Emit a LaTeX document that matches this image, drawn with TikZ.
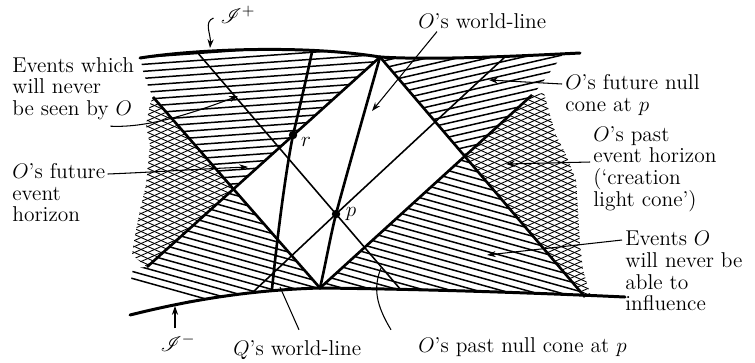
\documentclass[tikz,border=0pt]{standalone}
\usepackage{fontspec}
\usepackage{mathrsfs}
\usetikzlibrary{arrows.meta}

\newcommand{\scriplus}{(140,58) .. controls (190,50) and (300,44) .. (380,57) .. controls (430,60) and (500,57) .. (580,53)}
\newcommand{\scriminus}{(130,315) .. controls (190,300) and (250,290) .. (320,288) .. controls (420,289) and (540,293) .. (625,297)}

\tikzset{
  scri/.style={line width=1.7pt, line cap=round},
  horizon/.style={line width=1.5pt},
  worldline/.style={line width=1.5pt},
  nullray/.style={line width=0.9pt},
  hatch/.style={line width=0.85pt},
  mesh/.style={line width=0.5pt},
  leader/.style={line width=0.6pt},
  pointer/.style={leader, -{Stealth[length=5pt, width=3.5pt]}},
  lab/.style={inner sep=0pt, align=left, anchor=north west},
  tag/.style={inner sep=0pt, anchor=base west},
}

\begin{document}
\begin{tikzpicture}[x=0.2mm, y=-0.2mm, font={\fontsize{12.2}{12.3}\selectfont}]
\useasboundingbox (0,0) rectangle (755,362);
% ends of O's world-line and of the two horizons
\coordinate (T) at (380,57);
\coordinate (B) at (320,288);
\coordinate (L1) at (147,267);
\coordinate (R1) at (585,297);
\coordinate (L2) at (153,97);
\coordinate (R2) at (532,95);
\coordinate (CL) at (intersection of T--L1 and B--L2);
\coordinate (CR) at (intersection of T--R1 and B--R2);
\coordinate (p) at (336,214);
\coordinate (r) at (293,135);
\coordinate (Qtop) at (312,52);
\coordinate (Qbot) at (272,289);
\coordinate (na) at (197,52);
\coordinate (nb) at (401,290);
\coordinate (nc) at (506,56);
\coordinate (nd) at (253,292);

% never seen by O
\begin{scope}
  \clip \scriplus -- (580,360) -- (140,360) -- cycle;
  \begin{scope}
    \clip (138,20) -- (380,20) -- (T) -- (CL) -- (L2) -- (148,86) -- (142,68) -- cycle;
    \foreach \k in {0,...,24} \draw[hatch] (120,{45+7*\k}) -- (400,{25+7*\k});
  \end{scope}
  \begin{scope}
    \clip (380,20) -- (565,20) -- (562,56) -- (550,72) -- (540,86) -- (R2) -- (CR) -- (T) -- cycle;
    \foreach \k in {0,...,23} \draw[hatch] (370,{50+7*\k}) -- (580,{2+7*\k});
  \end{scope}
\end{scope}

% never influenced by O
\begin{scope}
  \clip \scriminus -- (625,20) -- (130,20) -- cycle;
  \clip (CL) -- (L1) -- (133,268) -- (131,280) -- (188,300) -- (230,330) -- (320,330) -- (B) -- cycle
        (CR) -- (B) -- (320,330) -- (600,330) -- (R1) -- cycle;
  \foreach \k in {0,...,40} \draw[hatch] (120,{30+7*\k}) -- (600,{164+7*\k});
\end{scope}

% neither
\begin{scope}
  \clip \scriminus -- (625,20) -- (130,20) -- cycle;
  \clip (CL) -- (L2) -- (150,104) -- (146,125) -- (150,145) -- (148,165) -- (146,185) -- (140,210) -- (135,235) -- (132,255) -- (L1) -- cycle
        (CR) -- (R2) -- (544,93) -- (550,115) -- (556,135) -- (566,155) -- (576,180) -- (578,210) -- (580,245) -- (583,270) -- (590,294) -- (R1) -- cycle;
  \foreach \k in {0,...,70} {
    \draw[mesh] (100,{-135+6*\k}) -- (620,{99+6*\k});
    \draw[mesh] (100,{100+6*\k}) -- (620,{-134+6*\k});
  }
\end{scope}

\draw[scri] \scriplus;
\draw[scri] \scriminus;
\draw[horizon] (L1) -- (T) -- (R1);
\draw[horizon] (L2) -- (B) -- (R2);
\draw[worldline] (B) .. controls (326,262) and (330,238) .. (p) .. controls (345,180) and (365,110) .. (T);
\draw[worldline] (Qbot) .. controls (278,230) and (286,170) .. (r) .. controls (299,110) and (306,80) .. (Qtop);
\draw[nullray] (na) -- (p) -- (nb);
\draw[nullray] (nc) -- (p) -- (nd);
\fill (p) circle (2.4pt) (r) circle (2.4pt);
\node (plab) at (351,214) {$p$};
\node (rlab) at (306,142) {$r$};

% labels
\node[lab] (unseen) at (12,57) {Events which\\will never\\be seen by $O$};
\node[lab] (futhor) at (12,163) {$O$'s future\\event\\horizon};
\node[lab] (futcone) at (565,74) {$O$'s future null\\cone at $p$};
\node[lab] (pasthor) at (593,126) {$O$'s past\\event horizon\\(`creation\\light cone')};
\node[lab] (noinfl) at (625,231) {Events $O$\\will never be\\able to\\influence};
\node[tag] (wl) at (418,28) {$O$'s world-line};
\node[tag] (pastcone) at (418,352) {$O$'s past null cone at $p$};
\node[tag] (Qwl) at (233,355) {$Q$'s world-line};
\node (scrip) at (238,15) {$\mathscr{I}^+$};
\node (scrim) at (178,343) {$\mathscr{I}^-$};

\coordinate (unseenTip) at (238,96);
\coordinate (futhorTip) at (248,167);
\coordinate (wlTip) at (372,111);
\coordinate (futconeTip) at (489,80);
\coordinate (pasthorTip) at (506,164);
\coordinate (noinflTip) at (487,255);
\coordinate (QwlTip) at (280,287);
\coordinate (pastconeTip) at (381,268);
\coordinate (scripTip) at (210,48);
\coordinate (scrimTip) at (175,306);

\draw[pointer] ([shift={(-24,6)}]unseen.south east) .. controls +(40,2) and +(-40,15) .. (unseenTip);
\draw[pointer] ([shift={(2,11)}]futhor.north east) .. controls +(50,-2) and +(-50,2) .. (futhorTip);
\draw[pointer] ([shift={(19,3)}]wl.south west) -- (wlTip);
\draw[pointer] ([shift={(-3,10)}]futcone.north west) -- (futconeTip);
\draw[pointer] ([shift={(-3,36)}]pasthor.north west) -- (pasthorTip);
\draw[pointer] ([shift={(-3,9)}]noinfl.north west) -- (noinflTip);
\draw[leader] ([shift={(66,-10)}]Qwl.north west) -- (QwlTip);
\draw[leader] ([shift={(-27,-7)}]pastcone.north west) .. controls +(-15,-25) and +(-8,20) .. (pastconeTip);
\draw[pointer] ([shift={(-1,3)}]scrip.west) .. controls +(-10,4) and +(1,-14) .. (scripTip);
\draw[pointer] (scrim.north -| scrimTip) -- (scrimTip);
\end{tikzpicture}
\end{document}
